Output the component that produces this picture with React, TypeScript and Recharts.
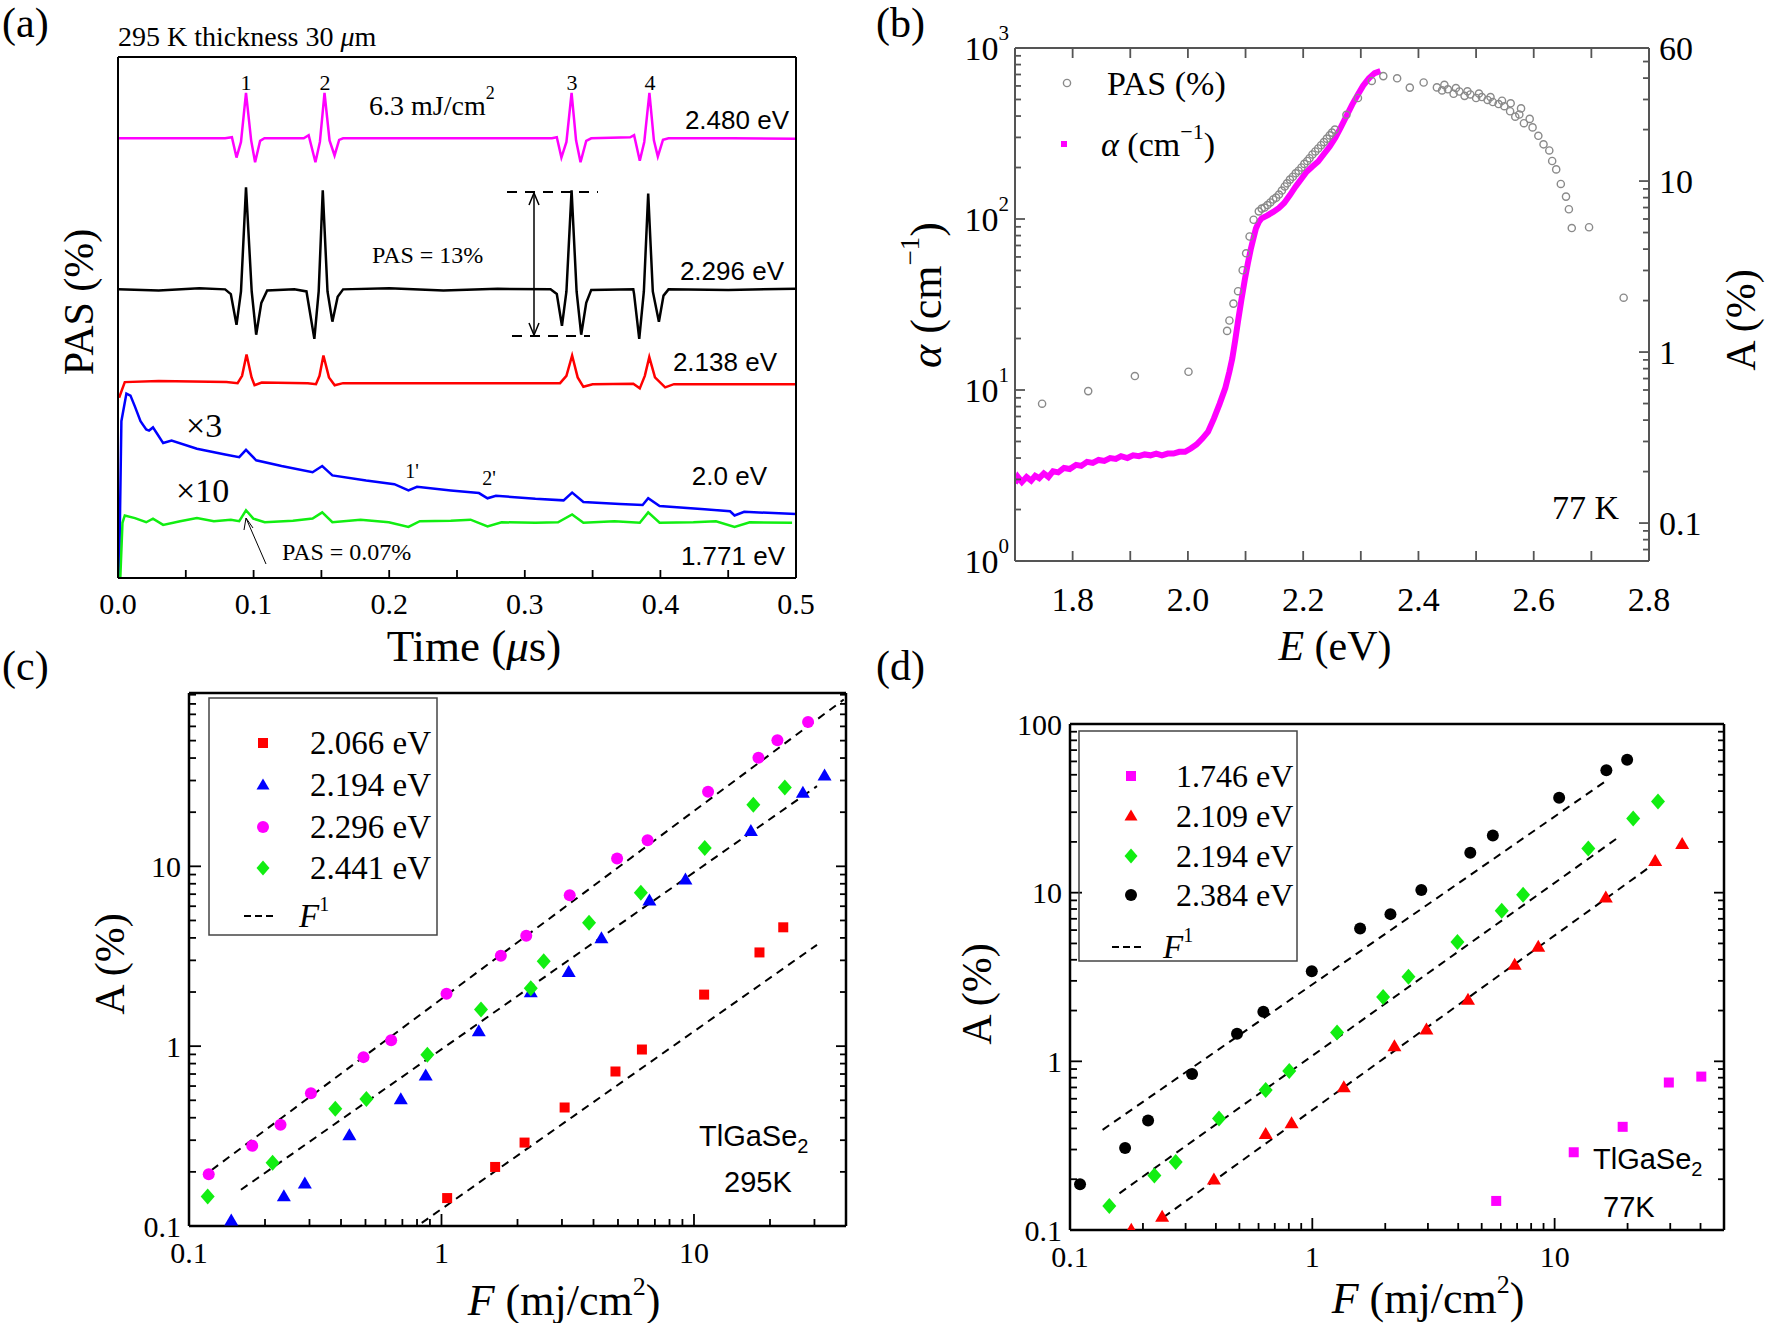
import React from "react";
import {
  LineChart,
  Line,
  ComposedChart,
  ScatterChart,
  Scatter,
  XAxis,
  YAxis,
  ReferenceLine,
} from "recharts";

const SERIF = '"Liberation Serif", "Times New Roman", serif';
const SANS = '"Liberation Sans", Arial, sans-serif';
const MAGENTA = "#ff00ff";
const RED = "#ff0000";
const BLUE = "#0000ff";
const GREEN = "#11ee11";

type Pt = [number, number];

// (a) PAS traces: [time (us), vertical position in plot units 0..100]
const trace2480: Pt[] = [
  [0, 84.4], [0.037, 84.4], [0.079, 84.4], [0.084, 84.6], [0.0874, 80.7], [0.0907, 83.7],
  [0.0944, 93.1], [0.0982, 84.0], [0.1011, 79.8], [0.1048, 83.9], [0.108, 84.4], [0.137, 84.4],
  [0.1406, 85.0], [0.1456, 79.8], [0.1489, 83.7], [0.1523, 93.1], [0.156, 84.0], [0.1597, 81.1],
  [0.1631, 84.1], [0.166, 84.4], [0.245, 84.4], [0.32, 84.4], [0.3236, 84.6], [0.327, 80.7],
  [0.3307, 83.7], [0.3345, 93.1], [0.3378, 84.0], [0.3411, 79.8], [0.3453, 83.9], [0.349, 84.4],
  [0.3777, 84.6], [0.3806, 85.0], [0.3848, 80.1], [0.3881, 83.7], [0.3919, 93.1], [0.3952, 84.0],
  [0.3981, 80.9], [0.4019, 84.1], [0.406, 84.4], [0.453, 84.4], [0.5, 84.3],
];
const trace2296: Pt[] = [
  [0, 55.4], [0.03, 55.2], [0.06, 55.6], [0.079, 55.4], [0.0832, 54.5], [0.0874, 48.6],
  [0.0907, 55.0], [0.0944, 75.0], [0.0986, 55.0], [0.1019, 46.7], [0.1057, 52.8], [0.11, 55.2],
  [0.13, 55.4], [0.139, 55.0], [0.1448, 45.9], [0.148, 55.0], [0.151, 74.4], [0.1545, 55.0],
  [0.1581, 49.2], [0.162, 54.0], [0.166, 55.4], [0.2, 55.6], [0.24, 55.2], [0.28, 55.5],
  [0.319, 55.4], [0.3236, 54.5], [0.3274, 48.4], [0.3307, 55.0], [0.3345, 74.4], [0.3382, 55.0],
  [0.3416, 46.7], [0.3453, 52.8], [0.349, 55.3], [0.38, 55.4], [0.3806, 54.5], [0.3844, 45.9],
  [0.3878, 55.0], [0.391, 73.8], [0.3944, 55.0], [0.3989, 49.2], [0.4023, 54.2], [0.406, 55.4],
  [0.45, 55.3], [0.5, 55.5],
];
const trace2138: Pt[] = [
  [0.0008, 34.6], [0.005, 37.6], [0.03, 37.8], [0.08, 37.6], [0.0882, 37.4], [0.0915, 38.8],
  [0.0948, 42.9], [0.0985, 38.5], [0.1007, 37.0], [0.106, 37.5], [0.14, 37.4], [0.146, 37.2],
  [0.1486, 38.8], [0.1515, 42.7], [0.1556, 38.5], [0.1598, 37.0], [0.166, 37.4], [0.25, 37.4],
  [0.326, 37.4], [0.3307, 38.8], [0.3349, 42.7], [0.339, 38.5], [0.3432, 36.7], [0.35, 37.2],
  [0.38, 37.3], [0.3848, 36.4], [0.3885, 38.8], [0.3918, 42.4], [0.396, 38.5], [0.4035, 36.6],
  [0.41, 37.2], [0.5, 37.2],
];
const trace2000: Pt[] = [
  [0.0008, 0], [0.0025, 30.1], [0.0062, 35.4], [0.0092, 35.0], [0.0125, 32.9], [0.0166, 30.1],
  [0.0208, 28.5], [0.0229, 28.3], [0.0258, 28.9], [0.0291, 27.6], [0.0333, 25.9], [0.0395, 26.4],
  [0.0582, 24.8], [0.079, 23.7], [0.0894, 23.2], [0.0944, 24.6], [0.1019, 22.6], [0.1206, 21.5],
  [0.1435, 20.3], [0.1506, 21.5], [0.1581, 19.7], [0.183, 18.7], [0.2038, 18.0], [0.2142, 16.8],
  [0.2205, 17.5], [0.2454, 16.8], [0.2662, 16.3], [0.2725, 15.3], [0.2787, 15.8], [0.3078, 15.2],
  [0.3286, 14.9], [0.3349, 16.4], [0.3432, 14.6], [0.3702, 14.2], [0.3869, 14.0], [0.391, 15.3],
  [0.3994, 13.8], [0.4326, 13.2], [0.4514, 12.8], [0.4547, 12.0], [0.4618, 12.7], [0.5, 12.3],
];
const trace1771: Pt[] = [
  [0.0017, 0], [0.0033, 10.6], [0.005, 12.0], [0.0125, 11.5], [0.0208, 10.7], [0.0258, 11.4],
  [0.0333, 10.2], [0.0458, 10.9], [0.0582, 11.5], [0.0707, 10.9], [0.0832, 11.2], [0.0894, 10.9],
  [0.0944, 13.0], [0.0998, 11.4], [0.1082, 10.7], [0.129, 11.0], [0.1435, 11.4], [0.1506, 12.6],
  [0.1581, 10.7], [0.1789, 11.2], [0.1997, 10.7], [0.2142, 9.8], [0.2226, 10.9], [0.2454, 11.0],
  [0.26, 11.2], [0.2725, 9.9], [0.2829, 10.7], [0.3078, 10.6], [0.3245, 10.7], [0.3349, 12.2],
  [0.3432, 10.6], [0.3661, 10.9], [0.3848, 10.6], [0.391, 12.6], [0.3994, 10.6], [0.4243, 10.7],
  [0.441, 10.9], [0.4547, 9.8], [0.4659, 10.7], [0.4971, 10.6],
];
const timeTicks = [0, 0.05, 0.1, 0.15, 0.2, 0.25, 0.3, 0.35, 0.4, 0.45, 0.5];
const timeMajors = [0, 0.1, 0.2, 0.3, 0.4, 0.5];

// (b) absorption coefficient alpha (cm^-1) and PAS (%) vs photon energy (eV)
const alphaSpectrum: Pt[] = [
  [1.7, 2.85], [1.705, 3.1], [1.712, 2.9], [1.72, 3.1], [1.728, 2.95], [1.735, 3.15], [1.742, 3.05],
  [1.75, 3.25], [1.758, 3.1], [1.766, 3.35], [1.775, 3.3], [1.785, 3.5], [1.795, 3.45],
  [1.806, 3.65], [1.815, 3.6], [1.825, 3.8], [1.835, 3.75], [1.845, 3.9], [1.855, 3.85],
  [1.865, 4.0], [1.875, 3.95], [1.884, 4.1], [1.895, 4.0], [1.905, 4.15], [1.915, 4.1],
  [1.925, 4.2], [1.935, 4.15], [1.945, 4.25], [1.955, 4.15], [1.965, 4.25], [1.975, 4.25],
  [1.985, 4.35], [1.995, 4.35], [2.005, 4.55], [2.015, 4.8], [2.025, 5.2], [2.035, 5.7],
  [2.045, 6.8], [2.055, 8.3], [2.065, 10.3], [2.072, 12.8], [2.077, 15.3], [2.082, 19.5],
  [2.087, 25.3], [2.093, 34], [2.099, 44.7], [2.104, 55], [2.109, 66.4], [2.114, 78],
  [2.118, 88], [2.123, 96], [2.128, 101], [2.138, 105], [2.148, 110], [2.158, 116], [2.167, 124],
  [2.177, 138], [2.187, 155], [2.197, 172], [2.206, 189], [2.216, 203], [2.226, 217],
  [2.236, 240], [2.246, 265], [2.256, 300], [2.265, 342], [2.275, 400], [2.285, 467],
  [2.295, 535], [2.304, 602], [2.314, 665], [2.324, 713], [2.334, 733],
];
const pasSpectrum: Pt[] = [
  [1.747, 0.499], [1.827, 0.591], [1.908, 0.724], [2.001, 0.767], [2.068, 1.33], [2.072, 1.53],
  [2.079, 1.92], [2.087, 2.27], [2.095, 3.01], [2.101, 3.78], [2.107, 4.74], [2.114, 5.94],
  [2.123, 6.65], [2.128, 6.9], [2.133, 7.0], [2.138, 7.24], [2.143, 7.5], [2.148, 7.8],
  [2.153, 8.0], [2.158, 8.34], [2.163, 8.8], [2.168, 9.3], [2.172, 9.7], [2.177, 10.2],
  [2.182, 10.6], [2.187, 11.1], [2.192, 11.5], [2.197, 12.0], [2.202, 12.6], [2.207, 13.1],
  [2.211, 13.6], [2.216, 14.3], [2.221, 14.9], [2.226, 15.5], [2.231, 16.2], [2.236, 16.9],
  [2.241, 17.7], [2.246, 18.5], [2.25, 19.2], [2.255, 20.0], [2.275, 24.4], [2.295, 30.6],
  [2.319, 38.5], [2.339, 41.1], [2.363, 39.9], [2.385, 35.2], [2.409, 37.7], [2.432, 35.3],
  [2.441, 33.9], [2.445, 36.5], [2.451, 34.4], [2.461, 32.4], [2.465, 35.0], [2.471, 33.4],
  [2.48, 31.5], [2.485, 33.5], [2.49, 32.1], [2.5, 30.6], [2.505, 32.5], [2.51, 31.0],
  [2.52, 29.8], [2.525, 31.0], [2.529, 29.0], [2.539, 28.2], [2.545, 29.5], [2.549, 27.4],
  [2.559, 25.6], [2.56, 28.5], [2.568, 23.8], [2.575, 24.5], [2.578, 26.6], [2.583, 21.8],
  [2.593, 23.1], [2.598, 20.6], [2.608, 18.4], [2.617, 16.4], [2.627, 15.1], [2.632, 13.1],
  [2.639, 11.7], [2.647, 9.62], [2.656, 8.11], [2.661, 6.84], [2.666, 5.31], [2.696, 5.37],
  [2.756, 2.08],
];
const energyTicks = [1.7, 1.8, 1.9, 2.0, 2.1, 2.2, 2.3, 2.4, 2.5, 2.6, 2.7, 2.8];
const energyMajors = [1.8, 2.0, 2.2, 2.4, 2.6, 2.8];
const alphaTicks = [
  1, 2, 3, 4, 5, 6, 7, 8, 9, 10, 20, 30, 40, 50, 60, 70, 80, 90,
  100, 200, 300, 400, 500, 600, 700, 800, 900, 1000,
];
const alphaMajors = [1, 10, 100, 1000];
const pasTicks = [
  0.06, 0.07, 0.08, 0.09, 0.1, 0.2, 0.3, 0.4, 0.5, 0.6, 0.7, 0.8, 0.9,
  1, 2, 3, 4, 5, 6, 7, 8, 9, 10, 20, 30, 40, 50, 60,
];
const pasMajors = [0.1, 1, 10, 60];

// (c) 295 K: [fluence (mJ/cm2), A (%)]
const c2066: Pt[] = [
  [1.053, 0.143], [1.631, 0.213], [2.133, 0.291], [3.074, 0.456], [4.887, 0.723],
  [6.22, 0.958], [10.97, 1.935], [18.17, 3.32], [22.57, 4.58],
];
const c2194: Pt[] = [
  [0.147, 0.107], [0.2375, 0.146], [0.2876, 0.172], [0.4317, 0.319], [0.69, 0.506],
  [0.866, 0.685], [1.405, 1.209], [2.257, 1.989], [3.19, 2.58], [4.3, 3.97], [6.66, 6.43],
  [9.25, 8.43], [16.8, 15.7], [27.0, 25.6], [32.9, 31.9],
];
const c2296: Pt[] = [
  [0.1197, 0.194], [0.178, 0.279], [0.2304, 0.366], [0.304, 0.548], [0.491, 0.869],
  [0.632, 1.079], [1.047, 1.956], [1.718, 3.18], [2.166, 4.11], [3.22, 6.9], [4.96, 11.05],
  [6.55, 13.95], [11.37, 26.0], [18.0, 40.1], [21.4, 50.3], [28.3, 63.5],
];
const c2441: Pt[] = [
  [0.1186, 0.146], [0.2143, 0.2245], [0.3797, 0.449], [0.504, 0.508], [0.879, 0.897],
  [1.434, 1.601], [2.257, 2.099], [2.54, 2.97], [3.84, 4.86], [6.16, 7.13], [11.03, 12.65],
  [17.18, 21.98], [22.9, 27.4],
];
const cFitUpper: Pt[] = [[0.123, 0.205], [39.2, 84.6]];
const cFitMiddle: Pt[] = [[0.1606, 0.159], [30.7, 27.9]];
const cFitLower: Pt[] = [[0.835, 0.104], [30.7, 3.66]];
const cFluenceTicks = [
  0.1, 0.2, 0.3, 0.4, 0.5, 0.6, 0.7, 0.8, 0.9, 1, 2, 3, 4, 5, 6, 7, 8, 9, 10, 20, 30, 40,
];
const cATicks = [
  0.1, 0.2, 0.3, 0.4, 0.5, 0.6, 0.7, 0.8, 0.9, 1, 2, 3, 4, 5, 6, 7, 8, 9,
  10, 20, 30, 40, 50, 60, 70, 80, 90,
];

// (d) 77 K
const d1746: Pt[] = [[5.74, 0.1487], [11.99, 0.289], [19.09, 0.409], [29.6, 0.749], [40.3, 0.812]];
const d2109: Pt[] = [
  [0.179, 0.1], [0.24, 0.1194], [0.3926, 0.1985], [0.642, 0.37], [0.821, 0.428], [1.349, 0.699],
  [2.182, 1.224], [2.958, 1.542], [4.39, 2.31], [6.84, 3.73], [8.56, 4.76], [16.26, 9.35],
  [26.0, 15.36], [33.6, 19.35],
];
const d2194: Pt[] = [
  [0.1453, 0.1388], [0.2229, 0.2103], [0.273, 0.253], [0.412, 0.458], [0.642, 0.675],
  [0.803, 0.876], [1.265, 1.48], [1.96, 2.405], [2.494, 3.17], [3.97, 5.1], [6.05, 7.82],
  [7.41, 9.73], [13.77, 18.26], [21.1, 27.5], [26.7, 34.7],
];
const d2384: Pt[] = [
  [0.11, 0.187], [0.1688, 0.306], [0.21, 0.4455], [0.319, 0.841], [0.489, 1.456],
  [0.628, 1.966], [0.995, 3.42], [1.575, 6.13], [2.101, 7.46], [2.818, 10.37], [4.487, 17.24],
  [5.56, 21.85], [10.44, 36.5], [16.35, 53.2], [19.92, 61.4],
];
const dFitUpper: Pt[] = [[0.1363, 0.3925], [16.7, 47.1]];
const dFitMiddle: Pt[] = [[0.16, 0.165], [18.6, 21.6]];
const dFitLower: Pt[] = [[0.243, 0.119], [27.7, 16.0]];
const dFluenceTicks = [...cFluenceTicks, 50];
const dATicks = [...cATicks, 100];
const decades = [0.1, 1, 10, 100];

// ---------- helpers ----------
type Side = "bottom" | "top" | "left" | "right";
interface TickOpts {
  majors: number[];
  len: number;
  minorLen: number;
  gap?: number;
  size?: number;
  color?: string;
  width?: number;
  label?: (v: number) => React.ReactNode;
}

const isIn = (list: number[], v: number) =>
  list.some((m) => Math.abs(m - v) < Math.abs(m) * 1e-6 + 1e-9);

// axes get width/height 1, so the tick anchor (x, y) sits on the frame line
function makeTick(side: Side, o: TickOpts) {
  return (props: any) => {
    const x = Number(props.x);
    const y = Number(props.y);
    const v = Number(props.payload?.value);
    const major = isIn(o.majors, v);
    const L = major ? o.len : o.minorLen;
    const dx = side === "left" ? L : side === "right" ? -L : 0;
    const dy = side === "bottom" ? -L : side === "top" ? L : 0;
    const lab = major && o.label ? o.label(v) : null;
    const g = o.gap ?? 0;
    let tx = x;
    let ty = y;
    let anchor: "middle" | "end" | "start" = "middle";
    if (side === "bottom") ty = y + g;
    if (side === "top") ty = y - g;
    if (side === "left") {
      tx = x - g;
      anchor = "end";
    }
    if (side === "right") {
      tx = x + g;
      anchor = "start";
    }
    return (
      <g>
        {L > 0 && (
          <line x1={x} y1={y} x2={x + dx} y2={y + dy} stroke={o.color ?? "#000"} strokeWidth={o.width ?? 1.8} />
        )}
        {lab != null && (
          <text x={tx} y={ty} textAnchor={anchor} dominantBaseline="central" fontFamily={SERIF} fontSize={o.size ?? 30} fill="#000">
            {lab}
          </text>
        )}
      </g>
    );
  };
}

const axisBase = (color: string, w: number) => ({
  tickSize: 0,
  tickMargin: 0,
  tickLine: false,
  interval: 0 as const,
  allowDataOverflow: true,
  axisLine: { stroke: color, strokeWidth: w },
});

function mergeTraces(series: Record<string, Pt[]>) {
  const rows: Record<string, number>[] = [];
  for (const [key, pts] of Object.entries(series)) {
    for (const [t, v] of pts) rows.push({ t, [key]: v });
  }
  rows.sort((a, b) => a.t - b.t);
  return rows;
}

const toXY = (pts: Pt[]) => pts.map(([x, y]) => ({ x, y }));

const square = (color: string, s: number) => (p: any) =>
  <rect x={p.cx - s / 2} y={p.cy - s / 2} width={s} height={s} fill={color} />;
const triangle = (color: string, w: number, h: number) => (p: any) =>
  <polygon points={`${p.cx},${p.cy - h * 0.6} ${p.cx + w / 2},${p.cy + h * 0.4} ${p.cx - w / 2},${p.cy + h * 0.4}`} fill={color} />;
const dot = (color: string, r: number) => (p: any) => <circle cx={p.cx} cy={p.cy} r={r} fill={color} />;
const diamond = (color: string, w: number, h: number) => (p: any) =>
  <polygon points={`${p.cx},${p.cy - h / 2} ${p.cx + w / 2},${p.cy} ${p.cx},${p.cy + h / 2} ${p.cx - w / 2},${p.cy}`} fill={color} />;
const ring = (p: any) => <circle cx={p.cx} cy={p.cy} r={3.6} fill="none" stroke="#8a8a8a" strokeWidth={1.4} />;

const decLabel = (v: number) => String(v);
const powLabel = (v: number) => {
  const n = Math.round(Math.log10(v));
  return (
    <>
      <tspan>10</tspan>
      <tspan dy={-15} fontSize={21}>{n}</tspan>
    </>
  );
};

const dash = { stroke: "#000", strokeWidth: 2, strokeDasharray: "8 6" };

// ---------- panels ----------
function PanelA() {
  const rows = mergeTraces({ m: trace2480, k: trace2296, r: trace2138, b: trace2000, g: trace1771 });
  const ax = axisBase("#000", 2);
  const lines: [string, string][] = [["m", MAGENTA], ["k", "#000"], ["r", RED], ["b", BLUE], ["g", GREEN]];
  return (
    <div style={{ position: "absolute", left: 0, top: 0 }}>
      <LineChart width={884} height={660} data={rows} margin={{ top: 56, right: 87, bottom: 81, left: 117 }}>
        <XAxis {...ax} dataKey="t" type="number" domain={[0, 0.5]} ticks={timeTicks} height={1}
          tick={makeTick("bottom", { majors: timeMajors, len: 8, minorLen: 8, gap: 25, size: 30, label: (v) => v.toFixed(1) })} />
        <XAxis {...ax} xAxisId="top" orientation="top" dataKey="t" type="number" domain={[0, 0.5]} height={1} tick={false} />
        <YAxis {...ax} type="number" domain={[0, 100]} width={1} tick={false} />
        <YAxis {...ax} yAxisId="r" orientation="right" type="number" domain={[0, 100]} width={1} tick={false} />
        {lines.map(([k, c]) => (
          <Line key={k} dataKey={k} type="linear" stroke={c} strokeWidth={2.5} dot={false} connectNulls isAnimationActive={false} />
        ))}
      </LineChart>
    </div>
  );
}

function PanelB() {
  const alphaRows = alphaSpectrum.map(([E, a]) => ({ E, a }));
  const pasRows = pasSpectrum.map(([E, A]) => ({ E, A }));
  const ax = axisBase("#555", 2);
  return (
    <div style={{ position: "absolute", left: 884, top: 0 }}>
      <ComposedChart width={884} height={660} data={alphaRows} margin={{ top: 47, right: 118, bottom: 98, left: 130 }}>
        <XAxis {...ax} dataKey="E" type="number" domain={[1.7, 2.8]} ticks={energyTicks} height={1}
          tick={makeTick("bottom", { majors: energyMajors, len: 10, minorLen: 10, gap: 38, size: 34, color: "#555", label: (v) => v.toFixed(1) })} />
        <XAxis {...ax} xAxisId="top" orientation="top" dataKey="E" type="number" domain={[1.7, 2.8]} ticks={energyTicks} height={1}
          tick={makeTick("top", { majors: energyTicks, len: 10, minorLen: 10, color: "#555" })} />
        <YAxis {...ax} yAxisId="L" dataKey="a" type="number" scale="log" domain={[1, 1000]} ticks={alphaTicks} width={1}
          tick={makeTick("left", { majors: alphaMajors, len: 10, minorLen: 6, gap: 6, size: 34, color: "#555", label: powLabel })} />
        <YAxis {...ax} yAxisId="R" orientation="right" dataKey="A" type="number" scale="log" domain={[0.06, 60]} ticks={pasTicks} width={1}
          tick={makeTick("right", { majors: pasMajors, len: 10, minorLen: 6, gap: 10, size: 34, color: "#555", label: decLabel })} />
        <Line yAxisId="L" dataKey="a" type="linear" stroke={MAGENTA} strokeWidth={6} dot={false} isAnimationActive={false} />
        <Scatter yAxisId="R" data={pasRows} shape={ring} isAnimationActive={false} />
      </ComposedChart>
    </div>
  );
}

interface LogPanelProps {
  left: number;
  top: number;
  margin: { top: number; right: number; bottom: number; left: number };
  xDomain: [number, number];
  yDomain: [number, number];
  xTicks: number[];
  yTicks: number[];
  fits: Pt[][];
  series: { pts: Pt[]; shape: (p: any) => React.ReactElement }[];
}

function LogPanel(p: LogPanelProps) {
  const ax = axisBase("#000", 2.5);
  return (
    <div style={{ position: "absolute", left: p.left, top: p.top }}>
      <ScatterChart width={884} height={663} margin={p.margin}>
        <XAxis {...ax} dataKey="x" type="number" scale="log" domain={p.xDomain} ticks={p.xTicks} height={1}
          tick={makeTick("bottom", { majors: decades, len: 12, minorLen: 7, gap: 26, size: 30, label: decLabel })} />
        <XAxis {...ax} xAxisId="top" orientation="top" type="number" scale="log" domain={p.xDomain} height={1} tick={false} />
        <YAxis {...ax} dataKey="y" type="number" scale="log" domain={p.yDomain} ticks={p.yTicks} width={1}
          tick={makeTick("left", { majors: decades, len: 12, minorLen: 7, gap: 8, size: 30, label: decLabel })} />
        <YAxis {...ax} yAxisId="right" orientation="right" type="number" scale="log" domain={p.yDomain} ticks={p.yTicks} width={1}
          tick={makeTick("right", { majors: decades, len: 10, minorLen: 6 })} />
        {p.fits.map((f, i) => (
          <ReferenceLine key={i} segment={toXY(f)} {...dash} ifOverflow="visible" />
        ))}
        {p.series.map((s, i) => (
          <Scatter key={i} data={toXY(s.pts)} shape={s.shape} isAnimationActive={false} />
        ))}
      </ScatterChart>
    </div>
  );
}

// ---------- overlay text ----------
function Txt(props: {
  x: number; y: number; size: number; anchor?: "start" | "middle" | "end"; family?: string; rot?: boolean; children: React.ReactNode;
}) {
  const { x, y, size, anchor = "start", family = SERIF, rot = false } = props;
  return (
    <text x={x} y={y} fontSize={size} fontFamily={family} textAnchor={anchor} dominantBaseline="central" fill="#000"
      transform={rot ? `rotate(-90 ${x} ${y})` : undefined}>
      {props.children}
    </text>
  );
}

const cLegend = [
  { label: "2.066 eV", shape: square(RED, 10) },
  { label: "2.194 eV", shape: triangle(BLUE, 13, 11) },
  { label: "2.296 eV", shape: dot(MAGENTA, 6) },
  { label: "2.441 eV", shape: diamond(GREEN, 13, 15) },
];
const dLegend = [
  { label: "1.746 eV", shape: square(MAGENTA, 10) },
  { label: "2.109 eV", shape: triangle(RED, 13, 11) },
  { label: "2.194 eV", shape: diamond(GREEN, 13, 15) },
  { label: "2.384 eV", shape: dot("#000", 6) },
];

function Overlay() {
  const arrow = { stroke: "#000", strokeWidth: 1.5, fill: "none" };
  return (
    <svg width={1768} height={1323} style={{ position: "absolute", left: 0, top: 0, pointerEvents: "none" }}>
      {/* panel (a) */}
      <Txt x={2} y={23} size={42}>(a)</Txt>
      <Txt x={118} y={36} size={28}>295 K thickness 30 <tspan fontStyle="italic">μ</tspan>m</Txt>
      {[["1", 246], ["2", 325], ["3", 572], ["4", 650]].map(([t, x]) => (
        <Txt key={t as string} x={x as number} y={82} size={22} anchor="middle">{t}</Txt>
      ))}
      <Txt x={369} y={105} size={28}>6.3 mJ/cm<tspan dy={-12} fontSize={18}>2</tspan></Txt>
      <Txt x={789} y={120} size={26} anchor="end" family={SANS}>2.480  eV</Txt>
      <Txt x={372} y={255} size={24}>PAS = 13%</Txt>
      <Txt x={784} y={271} size={26} anchor="end" family={SANS}>2.296 eV</Txt>
      <Txt x={777} y={362} size={26} anchor="end" family={SANS}>2.138 eV</Txt>
      <Txt x={186} y={425} size={34}>×3</Txt>
      <Txt x={412} y={471} size={20} anchor="middle">1'</Txt>
      <Txt x={489} y={478} size={20} anchor="middle">2'</Txt>
      <Txt x={767} y={476} size={26} anchor="end" family={SANS}>2.0 eV</Txt>
      <Txt x={176} y={490} size={34}>×10</Txt>
      <Txt x={282} y={552} size={24}>PAS = 0.07%</Txt>
      <Txt x={785} y={556} size={26} anchor="end" family={SANS}>1.771 eV</Txt>
      <line x1={507} y1={192} x2={598} y2={192} stroke="#000" strokeWidth={2} strokeDasharray="10 8" />
      <line x1={512} y1={336} x2={590} y2={336} stroke="#000" strokeWidth={2} strokeDasharray="10 8" />
      <line x1={534} y1={193} x2={534} y2={335} {...arrow} />
      <polyline points="529,205 534,193 539,205" {...arrow} />
      <polyline points="529,323 534,335 539,323" {...arrow} />
      <line x1={266} y1={564} x2={246} y2={518} stroke="#000" strokeWidth={1} />
      <polyline points="244,530 246,518 253,528" stroke="#000" strokeWidth={1} fill="none" />
      <Txt x={474} y={646} size={45} anchor="middle">Time (<tspan fontStyle="italic">μ</tspan>s)</Txt>
      <Txt x={79} y={302} size={42} anchor="middle" rot>PAS (%)</Txt>

      {/* panel (b) */}
      <Txt x={876} y={23} size={42}>(b)</Txt>
      {ring({ cx: 1067, cy: 83 })}
      <Txt x={1107} y={83} size={34}>PAS (%)</Txt>
      <rect x={1061} y={141} width={6} height={6} fill={MAGENTA} />
      <Txt x={1101} y={144} size={34}>
        <tspan fontStyle="italic">α</tspan> (cm<tspan dy={-13} fontSize={22}>−1</tspan><tspan dy={13}>)</tspan>
      </Txt>
      <Txt x={1552} y={507} size={34}>77 K</Txt>
      <Txt x={926} y={295} size={44} anchor="middle" rot>
        <tspan fontStyle="italic">α</tspan> (cm<tspan dy={-16} fontSize={27}>−1</tspan><tspan dy={16}>)</tspan>
      </Txt>
      <Txt x={1741} y={320} size={42} anchor="middle" rot>A (%)</Txt>
      <Txt x={1335} y={646} size={42} anchor="middle"><tspan fontStyle="italic">E</tspan> (eV)</Txt>

      {/* panel (c) */}
      <Txt x={2} y={666} size={42}>(c)</Txt>
      <rect x={209} y={698} width={228} height={237} fill="none" stroke="#444" strokeWidth={1.5} />
      {cLegend.map((e, i) => {
        const y = [743, 785, 827, 868][i];
        return (
          <g key={e.label}>
            {e.shape({ cx: 263, cy: y })}
            <Txt x={310} y={y} size={33}>{e.label}</Txt>
          </g>
        );
      })}
      <line x1={244} y1={916} x2={276} y2={916} stroke="#000" strokeWidth={2} strokeDasharray="7 4" />
      <Txt x={299} y={916} size={33}><tspan fontStyle="italic">F</tspan><tspan dy={-12} fontSize={20}>1</tspan></Txt>
      <Txt x={699} y={1136} size={29} family={SANS}>TlGaSe<tspan dy={10} fontSize={20}>2</tspan></Txt>
      <Txt x={724} y={1182} size={29} family={SANS}>295K</Txt>
      <Txt x={110} y={964} size={42} anchor="middle" rot>A (%)</Txt>
      <Txt x={564} y={1300} size={44} anchor="middle">
        <tspan fontStyle="italic">F</tspan> (mj/cm<tspan dy={-14} fontSize={26}>2</tspan><tspan dy={14}>)</tspan>
      </Txt>

      {/* panel (d) */}
      <Txt x={876} y={666} size={42}>(d)</Txt>
      <rect x={1079} y={731} width={218} height={230} fill="none" stroke="#444" strokeWidth={1.5} />
      {dLegend.map((e, i) => {
        const y = [776, 816, 856, 895][i];
        return (
          <g key={e.label}>
            {e.shape({ cx: 1131, cy: y })}
            <Txt x={1176} y={y} size={32}>{e.label}</Txt>
          </g>
        );
      })}
      <line x1={1112} y1={947} x2={1143} y2={947} stroke="#000" strokeWidth={2} strokeDasharray="7 4" />
      <Txt x={1163} y={947} size={33}><tspan fontStyle="italic">F</tspan><tspan dy={-12} fontSize={20}>1</tspan></Txt>
      <Txt x={1593} y={1159} size={29} family={SANS}>TlGaSe<tspan dy={10} fontSize={20}>2</tspan></Txt>
      <Txt x={1603} y={1207} size={29} family={SANS}>77K</Txt>
      <Txt x={977} y={994} size={42} anchor="middle" rot>A (%)</Txt>
      <Txt x={1428} y={1298} size={44} anchor="middle">
        <tspan fontStyle="italic">F</tspan> (mj/cm<tspan dy={-14} fontSize={26}>2</tspan><tspan dy={14}>)</tspan>
      </Txt>
    </svg>
  );
}

export default function App() {
  return (
    <div style={{ position: "absolute", left: 0, top: 0, width: 1768, height: 1323, background: "#fff", overflow: "hidden" }}>
      <PanelA />
      <PanelB />
      <LogPanel
        left={0}
        top={660}
        margin={{ top: 32, right: 37, bottom: 96, left: 188 }}
        xDomain={[0.1, 40]}
        yDomain={[0.1, 92]}
        xTicks={cFluenceTicks}
        yTicks={cATicks}
        fits={[cFitUpper, cFitMiddle, cFitLower]}
        series={[
          { pts: c2066, shape: square(RED, 10) },
          { pts: c2194, shape: triangle(BLUE, 14, 12) },
          { pts: c2296, shape: dot(MAGENTA, 6) },
          { pts: c2441, shape: diamond(GREEN, 14, 16) },
        ]}
      />
      <LogPanel
        left={884}
        top={660}
        margin={{ top: 63, right: 43, bottom: 92, left: 185 }}
        xDomain={[0.1, 50]}
        yDomain={[0.1, 100]}
        xTicks={dFluenceTicks}
        yTicks={dATicks}
        fits={[dFitUpper, dFitMiddle, dFitLower]}
        series={[
          { pts: d1746, shape: square(MAGENTA, 10) },
          { pts: d2109, shape: triangle(RED, 14, 12) },
          { pts: d2194, shape: diamond(GREEN, 14, 16) },
          { pts: d2384, shape: dot("#000", 6) },
        ]}
      />
      <Overlay />
    </div>
  );
}
